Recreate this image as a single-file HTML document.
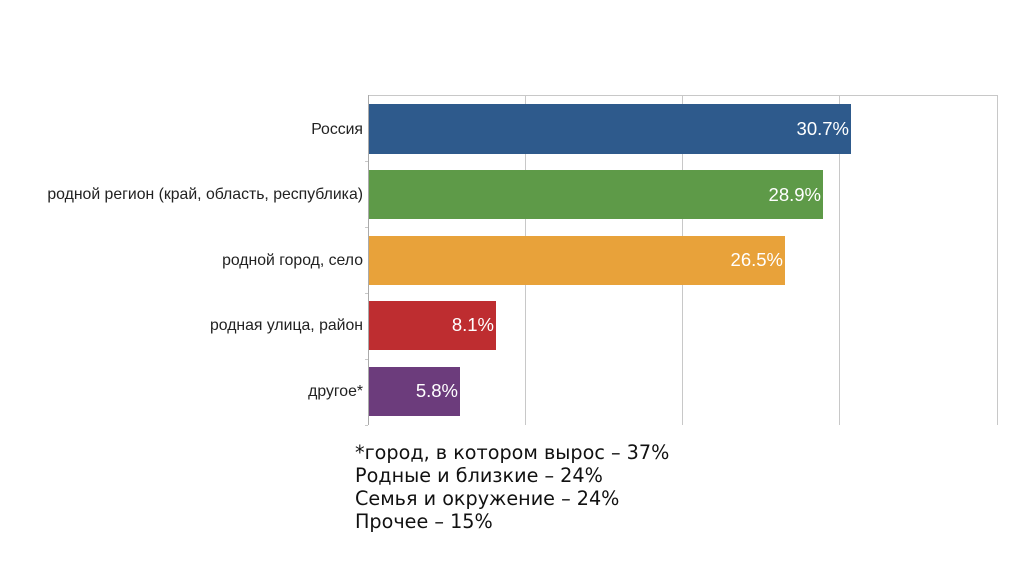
<!DOCTYPE html>
<html><head><meta charset="utf-8"><style>
body{margin:0;background:#fff;width:1024px;height:576px;overflow:hidden}
</style></head><body>
<svg width="1024" height="576" xmlns="http://www.w3.org/2000/svg" font-family="Liberation Sans, DejaVu Sans, sans-serif">
<g stroke="#c8c8c8" stroke-width="1">
<line x1="368.5" y1="95.5" x2="997.5" y2="95.5"/>
<line x1="525.5" y1="95" x2="525.5" y2="425"/>
<line x1="682.5" y1="95" x2="682.5" y2="425"/>
<line x1="839.5" y1="95" x2="839.5" y2="425"/>
<line x1="997.5" y1="95" x2="997.5" y2="425"/>
<line x1="368.5" y1="95" x2="368.5" y2="425" stroke="#aaa"/>
<line x1="365" y1="161.5" x2="368" y2="161.5"/>
<line x1="365" y1="227.5" x2="368" y2="227.5"/>
<line x1="365" y1="293.5" x2="368" y2="293.5"/>
<line x1="365" y1="359.5" x2="368" y2="359.5"/>
<line x1="365" y1="425.5" x2="368" y2="425.5"/>
</g>
<rect x="369" y="104" width="482" height="50" fill="#2e5a8c"/>
<rect x="369" y="170" width="454" height="49" fill="#5e9a48"/>
<rect x="369" y="236" width="416" height="49" fill="#e8a23a"/>
<rect x="369" y="301" width="127" height="49" fill="#be2d30"/>
<rect x="369" y="367" width="91" height="49" fill="#6c3c7c"/>
<g fill="#fff" font-size="18.5" text-anchor="end">
<text x="849" y="135">30.7%</text>
<text x="821" y="201">28.9%</text>
<text x="783" y="266">26.5%</text>
<text x="494" y="331">8.1%</text>
<text x="458" y="397">5.8%</text>
</g>
<g fill="#222" font-size="15.8" text-anchor="end">
<text x="363" y="134">Россия</text>
<text x="363" y="199">родной регион (край, область, республика)</text>
<text x="363" y="265">родной город, село</text>
<text x="363" y="330">родная улица, район</text>
<text x="363" y="396">другое*</text>
</g>
<g fill="#111" font-size="19.2" font-family="DejaVu Sans, sans-serif">
<text x="355" y="459">*город, в котором вырос – 37%</text>
<text x="355" y="482">Родные и близкие – 24%</text>
<text x="355" y="505">Семья и окружение – 24%</text>
<text x="355" y="528">Прочее – 15%</text>
</g>
</svg>
</body></html>
